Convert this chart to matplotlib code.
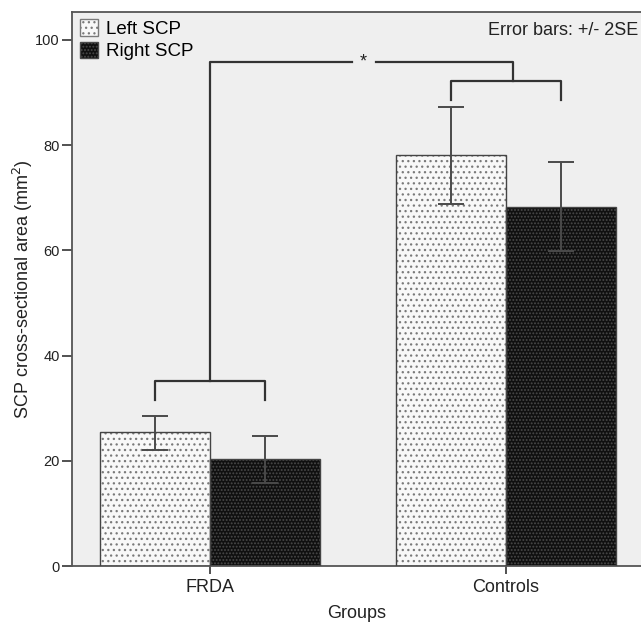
import matplotlib
matplotlib.use('Agg')
import matplotlib.pyplot as plt
import matplotlib.patches as mpatches
import numpy as np

plt.rcParams['font.family'] = ['Liberation Sans', 'DejaVu Sans']
plt.rcParams['hatch.linewidth'] = 0.9

groups = ['FRDA', 'Controls']
left_scp = [25.4, 78.1]
right_scp = [20.3, 68.3]
left_lo = [22.1, 68.8]
left_hi = [28.6, 87.3]
right_lo = [15.8, 59.8]
right_hi = [24.8, 76.8]

# significance brackets
frda_bracket = 35.2
frda_leg = 31.6
ctrl_bracket = 92.2
ctrl_leg = 88.6
top_bracket = 95.8

yticks = [0, 20, 40, 60, 80, 100]


def plot_bars(ax, x, vals, face, dots, hatch):
    ax.bar(x, vals, width=W, facecolor=face, edgecolor=dots, hatch=hatch, linewidth=0, zorder=2)
    ax.bar(x, vals, width=W, fill=False, edgecolor='#444444', linewidth=1.0, zorder=3)


W = 0.372
x = np.arange(len(groups))

fig = plt.figure(figsize=(6.41, 6.24), dpi=100)
ax = fig.add_axes([72 / 641, 58 / 624, 1 - 72 / 641, (566 - 11.5) / 624])
ax.set_facecolor('#efefef')

plot_bars(ax, x - W / 2, left_scp, '#f8f8f8', '#7a7a7a', '...')
plot_bars(ax, x + W / 2, right_scp, '#101010', '#4a4a4a', '.....')

# error bars
for xs, vals, lo, hi in [(x - W / 2, left_scp, left_lo, left_hi), (x + W / 2, right_scp, right_lo, right_hi)]:
    err = [np.array(vals) - np.array(lo), np.array(hi) - np.array(vals)]
    ax.errorbar(xs, vals, yerr=err, fmt='none', ecolor='#4a4a4a', elinewidth=1.4,
                capsize=9.5, capthick=1.4, zorder=4)

lc = '#333333'
lw = 1.6
# FRDA bracket
ax.plot([x[0] - W / 2, x[0] - W / 2, x[0] + W / 2, x[0] + W / 2],
        [frda_leg, frda_bracket, frda_bracket, frda_leg], color=lc, lw=lw, zorder=5)
# Controls bracket
ax.plot([x[1] - W / 2, x[1] - W / 2, x[1] + W / 2, x[1] + W / 2],
        [ctrl_leg, ctrl_bracket, ctrl_bracket, ctrl_leg], color=lc, lw=lw, zorder=5)
# top connector with star
ax.plot([x[0], x[0], x[0] + 0.48], [frda_bracket, top_bracket, top_bracket], color=lc, lw=lw, zorder=5)
ax.plot([x[0] + 0.56, x[1] + 0.025, x[1] + 0.025], [top_bracket, top_bracket, ctrl_bracket],
        color=lc, lw=lw, zorder=5)
ax.text(x[0] + 0.518, top_bracket, '*', ha='center', va='center', fontsize=13, color='#222222')

ax.set_xlim(-0.466, 1.456)
ax.set_ylim(0, 105.4)
ax.set_xticks(x)
ax.set_xticklabels(groups, fontsize=13)
ax.set_yticks(yticks)
ax.set_yticklabels([str(t) for t in yticks], fontsize=10.5)
ax.tick_params(axis='y', length=7, width=1.2, color='#333333', pad=2, labelcolor='#222222')
ax.tick_params(axis='x', length=6, width=1.2, color='#333333', pad=3, labelcolor='#222222')

for s in ['left', 'top', 'bottom']:
    ax.spines[s].set_color('#555555')
    ax.spines[s].set_linewidth(1.3)
ax.spines['right'].set_visible(False)

ax.set_ylabel('SCP cross-sectional area (mm$^2$)', fontsize=13, color='#222222', labelpad=0)
ax.set_xlabel('Groups', fontsize=13, color='#222222', labelpad=7)

handles = [mpatches.Patch(facecolor='#f8f8f8', edgecolor='#7a7a7a', hatch='...', label='Left SCP'),
           mpatches.Patch(facecolor='#101010', edgecolor='#4a4a4a', hatch='.....', label='Right SCP')]
ax.legend(handles=handles, loc='upper left', frameon=False, fontsize=13.5, handlelength=1.0,
          handleheight=1.0, handletextpad=0.4, labelspacing=0.2, borderaxespad=0.2,
          borderpad=0.2)

ax.text(0.995, 0.965, 'Error bars: +/- 2SE', transform=ax.transAxes, ha='right', va='center',
        fontsize=13, color='#222222')

fig.savefig('out.png', dpi=100)
